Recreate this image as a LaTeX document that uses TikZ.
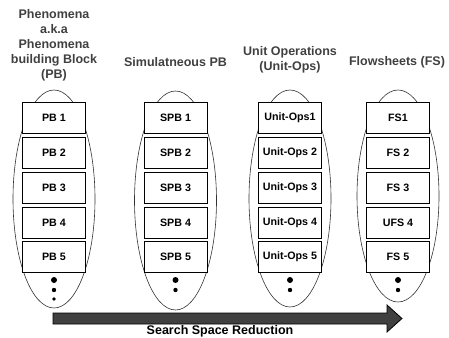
\documentclass[tikz,border=0pt]{standalone}
\usepackage{fontspec}
\setmainfont{Liberation Sans}
\usetikzlibrary{positioning}
\begin{document}
\begin{tikzpicture}[
      x=1pt, y=-1pt,
      node distance=3pt,
      block/.style={draw,thick,fill=white,minimum width=63pt,minimum height=31pt,inner sep=1pt,font=\fontsize{10.7}{12}\selectfont\bfseries},
      header/.style={align=center,text=black!75,font=\fontsize{12.5}{15}\selectfont\bfseries},
      group/.style={draw=black!80,line width=0.6pt},
      more/.style={fill=black},
      reduce/.style={draw=black,line width=0.8pt,fill=black!75}
    ]
    \useasboundingbox (0,0) rectangle (449,337);
    % Draw the column headers.
    \node[header] (pbhead)  at (54,45)    {Phenomena\\a.k.a\\Phenomena\\building Block\\(PB)};
    \node[header] (spbhead) at (175.5,62) {Simulatneous PB};
    \node[header] (uohead)  at (290,59.5) {Unit Operations\\(Unit-Ops)};
    \node[header] (fshead)  at (397,62)   {Flowsheets (FS)};
    % Draw the groups behind the blocks.
    \draw[group] (54,199)    ellipse [x radius=41, y radius=109];
    \draw[group] (175.5,200.5) ellipse [x radius=41, y radius=109.5];
    \draw[group] (290,198.5) ellipse [x radius=41, y radius=108.5];
    \draw[group] (398,196)   ellipse [x radius=41, y radius=106];
    % Draw the phenomena blocks.
    \node[block] (pb1) at (54,118) {PB 1};
    \node[block,below=of pb1] (pb2) {PB 2};
    \node[block,below=of pb2] (pb3) {PB 3};
    \node[block,below=of pb3] (pb4) {PB 4};
    \node[block,below=of pb4] (pb5) {PB 5};
    % Draw the simultaneous blocks.
    \node[block] (spb1) at (175.5,118) {SPB 1};
    \node[block,below=of spb1] (spb2) {SPB 2};
    \node[block,below=of spb2] (spb3) {SPB 3};
    \node[block,below=of spb3] (spb4) {SPB 4};
    \node[block,below=of spb4] (spb5) {SPB 5};
    % Draw the unit operations.
    \node[block] (uo1) at (290,118) {Unit-Ops1};
    \node[block,below=of uo1] (uo2) {Unit-Ops 2};
    \node[block,below=of uo2] (uo3) {Unit-Ops 3};
    \node[block,below=of uo3] (uo4) {Unit-Ops 4};
    \node[block,below=of uo4] (uo5) {Unit-Ops 5};
    % Draw the flowsheets.
    \node[block] (fs1) at (398,118) {FS1};
    \node[block,below=of fs1] (fs2) {FS 2};
    \node[block,below=of fs2] (fs3) {FS 3};
    \node[block,below=of fs3] (fs4) {UFS 4};
    \node[block,below=of fs4] (fs5) {FS 5};
    % Draw the dots.
    \fill[more] (54,280) circle (3) (54,290) circle (2.2) (54,299) circle (1.8);
    \fill[more] (175.5,280) circle (3) (175.5,290) circle (2.2);
    \fill[more] (290,280) circle (3) (290,290) circle (2.2);
    \fill[more] (398,280) circle (3) (398,290) circle (2.2);
    % Draw the reduction arrow.
    \draw[reduce] (53,313) -- (387,313) -- (387,305) -- (402,318.5) -- (387,332)
      -- (387,324) -- (53,324) -- cycle;
    \node[font=\fontsize{12.5}{15}\selectfont\bfseries] (reduction) at (220,331) {Search Space Reduction};
    \end{tikzpicture}
\end{document}
